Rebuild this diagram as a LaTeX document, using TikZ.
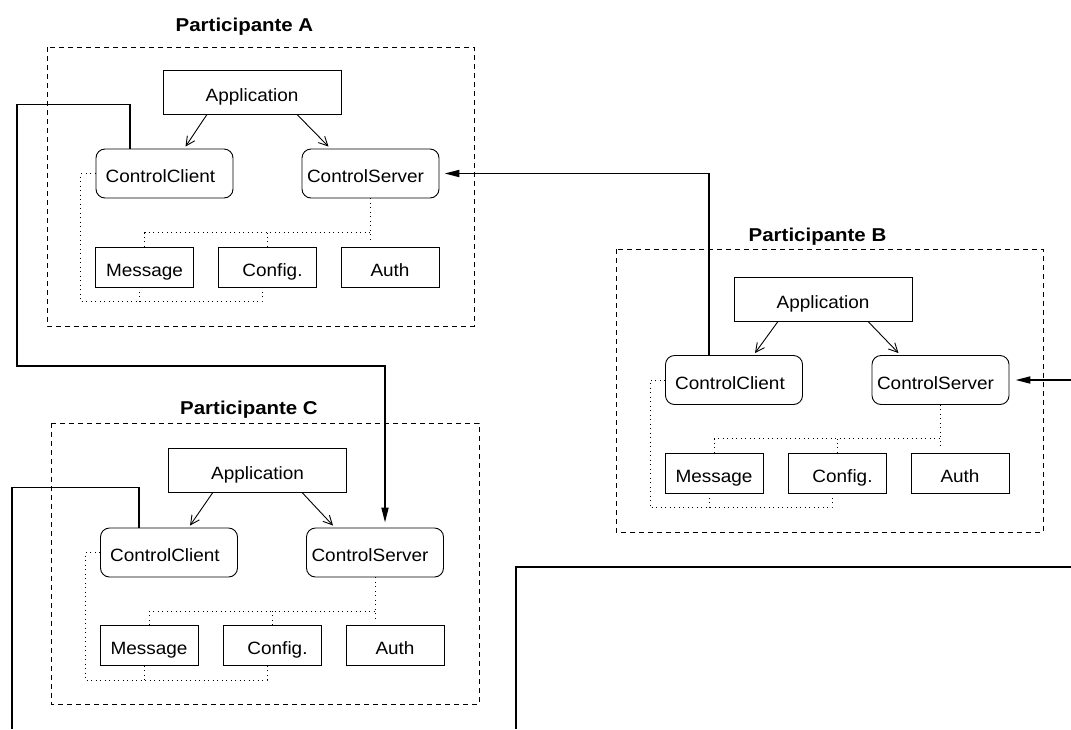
\documentclass[tikz,border=0pt]{standalone}
\usepackage{fontspec}
\setmainfont{Liberation Sans}[FakeStretch=1.065, BoldFeatures={FakeStretch=1.1}]
\usetikzlibrary{arrows.meta,calc}

\begin{document}
\begin{tikzpicture}[x=1pt,y=-1pt,
  font=\fontsize{17.8}{21}\selectfont,
  comp/.style={draw, line width=0.9pt, text height=18.7pt, text depth=0pt, inner sep=0pt},
  appbox/.style={comp, minimum width=178pt, minimum height=44pt},
  ctlbox/.style={comp, rounded corners=9pt, minimum width=137pt, minimum height=49pt},
  modbox/.style={comp, minimum width=98pt, minimum height=40pt},
  groupframe/.style={draw, line width=0.8pt, dash pattern=on 5pt off 4pt},
  grouptitle/.style={font=\fontsize{18.6}{22}\selectfont\bfseries, anchor=base},
  uses/.style={draw, line width=0.9pt, -{Straight Barb[length=9pt,width=9pt]}},
  dep/.style={draw, line width=0.9pt, dash pattern=on 1pt off 3.5pt},
  wire/.style={draw, line width=1.8pt},
  wirearrow/.style={wire, -{Triangle[length=15pt,width=7pt]}},
]
\useasboundingbox (0,0) rectangle (1071,729);

% ---- Participante A ----
\draw[groupframe] (47,47) rectangle (474,326);
\node[grouptitle] (titleA) at (244.5,31) {Participante A};
\node[appbox] (appA) at (252,92) {Application};
\node[ctlbox] (ccA) at (164.5,173.5) {ControlClient\hspace*{8pt}};
\node[ctlbox] (csA) at (370.5,173.5) {ControlServer\hspace*{10pt}};
\node[modbox] (msgA) at (144.5,267) {Message};
\node[modbox] (cfgA) at (267.5,267) {\hspace*{10pt}Config.};
\node[modbox] (authA) at (390,267) {Auth};

% ---- Participante B ----
\draw[groupframe] (616,249) rectangle (1043,532);
\node[grouptitle] (titleB) at (817.5,241) {Participante B};
\node[appbox] (appB) at (823,299) {Application};
\node[ctlbox] (ccB) at (734,380) {ControlClient\hspace*{8pt}};
\node[ctlbox] (csB) at (940.5,380) {ControlServer\hspace*{10pt}};
\node[modbox] (msgB) at (714,473) {Message};
\node[modbox] (cfgB) at (837.5,473) {\hspace*{10pt}Config.};
\node[modbox] (authB) at (960,473) {Auth};

% ---- Participante C ----
\draw[groupframe] (51,423) rectangle (479,704);
\node[grouptitle] (titleC) at (249,414) {Participante C};
\node[appbox] (appC) at (257.5,470.5) {Application};
\node[ctlbox] (ccC) at (169,552.5) {ControlClient\hspace*{8pt}};
\node[ctlbox] (csC) at (375,552.5) {ControlServer\hspace*{10pt}};
\node[modbox] (msgC) at (149,645.5) {Message};
\node[modbox] (cfgC) at (272.5,645.5) {\hspace*{10pt}Config.};
\node[modbox] (authC) at (395,645.5) {Auth};

% ---- internal structure of each participant ----
\foreach \p in {A,B,C} {
  \draw[uses] ($(app\p.south)+(-45,0)$) -- ($(cc\p.north)+(21,-2)$);
  \draw[uses] ($(app\p.south)+(45,0)$) -- ($(cs\p.north)+(-42,-2)$);
  % server side module bus
  \draw[dep] (cs\p.south) -- ($(cs\p.south |- auth\p.north)+(0,-4)$);
  \draw[dep] (msg\p.north) |- ($(cs\p.south |- auth\p.north)+(0,-14)$);
  \draw[dep] (cfg\p.north) -- ++(0,-14);
  % client side module bus
  \draw[dep] (cc\p.west) -- ++(-15,0) |- ($(cfg\p.south)+(-5.5,14)$) -- ($(cfg\p.south)+(-5.5,0)$);
  \draw[dep] ($(msg\p.south)+(-5,0)$) -- ++(0,14);
}

% ---- connections between participants ----
\draw[wirearrow] ($(ccA.north)+(-34.5,0)$) |- (17,104.5) |- (385,366) -- ($(csC.north)+(10,-5)$);
\draw[wirearrow] ($(ccB.north)+(-25,0)$) |- ($(csA.east)+(5,0)$);
\coordinate (rimB) at (1071,380);
\draw[wirearrow] (rimB) -- ($(csB.east)+(6,0)$);
\coordinate (floorC) at (12,729);
\draw[wire] ($(ccC.north)+(-30,0)$) -- ++(0,-40) -| (floorC);
\coordinate (floorD) at (516,729);
\coordinate (rimD) at (1071,567);
\draw[wire] (floorD) |- (rimD);
\end{tikzpicture}
\end{document}
